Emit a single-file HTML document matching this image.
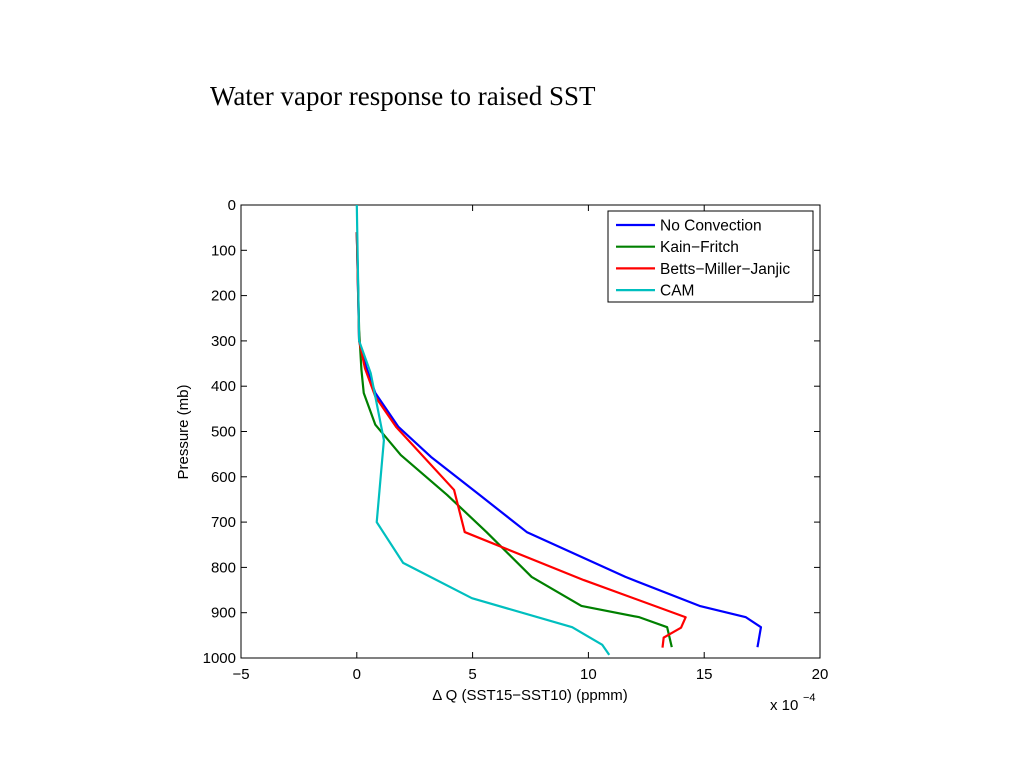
<!DOCTYPE html>
<html><head><meta charset="utf-8"><style>
body{margin:0;background:#fff;width:1023px;height:767px;overflow:hidden}
svg{position:absolute;left:0;top:0}
text{font-family:"Liberation Sans",sans-serif;font-size:15px;fill:#000}
</style></head><body>
<svg id="c" width="1023" height="767">
<text x="210" y="105" style="font-family:'Liberation Serif',serif;font-size:27px">Water vapor response to raised SST</text>
</svg>
<script>
const xTicks=[-5,0,5,10,15,20];
const yTicks=[0,100,200,300,400,500,600,700,800,900,1000];
const seriesNames=["No Convection","Kain\u2212Fritch","Betts\u2212Miller\u2212Janjic","CAM"];
const seriesColors=["#0000ff","#008000","#ff0000","#00bfbf"];
const blueP=[60,300,357,415,490,556,640,722,821,885,910,932,976];
const blueV=[0,0.1,0.4,0.8,1.8,3.2,5.3,7.34,11.6,14.8,16.8,17.45,17.3];
const greenP=[60,276,364,415,485,552,640,722,821,885,910,932,976];
const greenV=[0,0.1,0.2,0.3,0.8,1.9,3.9,5.6,7.55,9.7,12.2,13.4,13.6];
const redP=[60,300,360,423,490,629,722,828,910,933,955,977];
const redV=[0,0.1,0.35,0.8,1.7,4.2,4.66,9.8,14.2,14.0,13.25,13.2];
const cyanP=[0,300,371,519,700,790,868,932,971,993];
const cyanV=[0,0.1,0.6,1.17,0.86,2.0,4.97,9.3,10.6,10.9];
const L=241,R=820,T=205,B=658;
const X=v=>L+(v+5)/25*(R-L);
const Y=p=>T+p/1000*(B-T);
const svg=document.getElementById('c');const NS='http://www.w3.org/2000/svg';
function mk(t,a,txt){const e=document.createElementNS(NS,t);for(const k in a)e.setAttribute(k,a[k]);if(txt!=null)e.textContent=txt;svg.appendChild(e);return e;}
let e=mk('rect',{x:L,y:T,width:R-L,height:B-T,fill:'none',stroke:'#000','stroke-width':1});


xTicks.forEach(v=>{const x=X(v);
mk('line',{x1:x,y1:B,x2:x,y2:B-6,stroke:'#000'});mk('line',{x1:x,y1:T,x2:x,y2:T+6,stroke:'#000'});
const t=mk('text',{x:x,y:B+21,'text-anchor':'middle'},v<0?'\u2212'+(-v):String(v));

});
yTicks.forEach(p=>{const y=Y(p);
mk('line',{x1:L,y1:y,x2:L+6,y2:y,stroke:'#000'});mk('line',{x1:R,y1:y,x2:R-6,y2:y,stroke:'#000'});
const t=mk('text',{x:L-5,y:y+5,'text-anchor':'end'},String(p));

});
e=mk('text',{x:530,y:700,'text-anchor':'middle'},'\u0394 Q (SST15\u2212SST10) (ppmm)');


e=mk('text',{x:770,y:710},'x 10');


mk('text',{x:803,y:701,style:'font-size:11px'},'\u22124');
e=mk('text',{x:188,y:432,'text-anchor':'middle',transform:'rotate(-90 188 432)'},'Pressure (mb)');


const series=[[blueP,blueV],[greenP,greenV],[redP,redV],[cyanP,cyanV]];
series.forEach((s,i)=>{const pts=s[0].map((p,j)=>X(s[1][j])+','+Y(p)).join(' ');
const l=mk('polyline',{points:pts,fill:'none',stroke:seriesColors[i],'stroke-width':2.2,'stroke-linejoin':'round'});

});
e=mk('rect',{x:608,y:211,width:205,height:91,fill:'#fff',stroke:'#000'});


seriesNames.forEach((n,i)=>{const y=225+i*21.7;
mk('line',{x1:616,y1:y,x2:655,y2:y,stroke:seriesColors[i],'stroke-width':2.2});
const t=mk('text',{x:660,y:y+5.5,style:'font-size:15.5px'},n);

});
</script>
</body></html>
